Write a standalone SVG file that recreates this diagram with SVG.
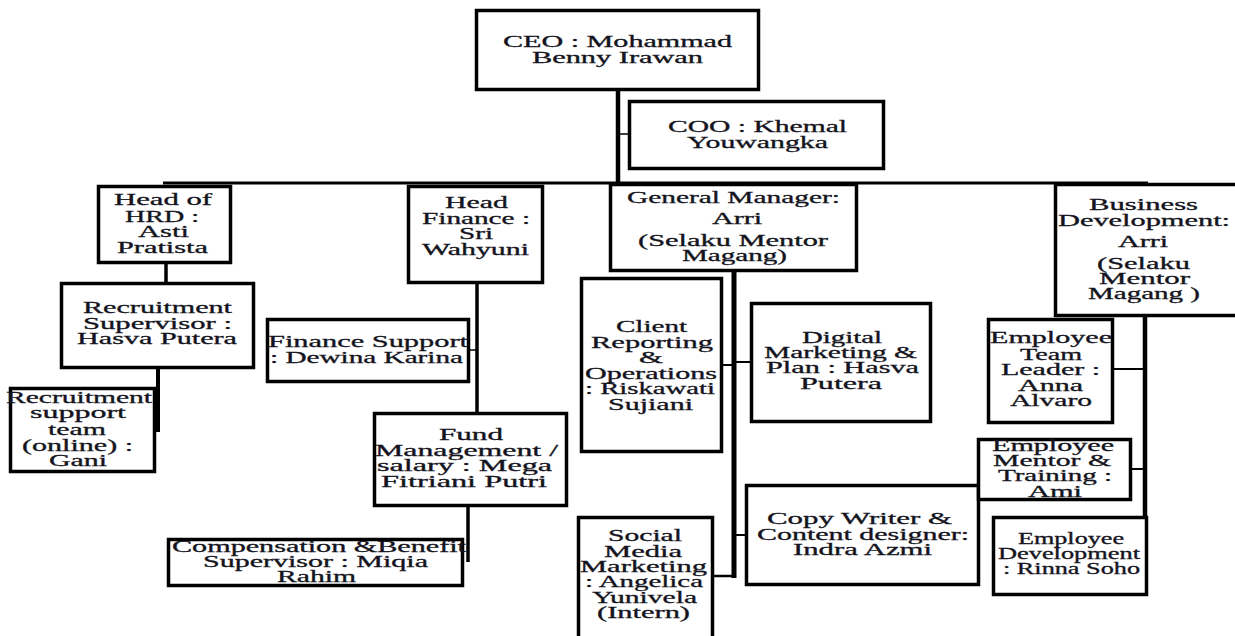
<svg xmlns="http://www.w3.org/2000/svg" width="1235" height="636" viewBox="0 0 1235 636">
<style>
.box{fill:#fff;stroke:#000;stroke-width:3.5}
.ln{stroke:#000;fill:none}
.t{font-family:"Liberation Serif","Times New Roman",serif;font-size:16px;fill:#141420;stroke:#141420;stroke-width:0.3}
</style>
<rect width="1235" height="636" fill="#fff"/>
<g id="connectors">
<line class="ln" x1="618" y1="90" x2="618" y2="184" stroke-width="4.5"/>
<line class="ln" x1="618" y1="134" x2="629" y2="134" stroke-width="1.5"/>
<line class="ln" x1="163" y1="183" x2="1148" y2="183" stroke-width="3"/>
<line class="ln" x1="166" y1="263" x2="166" y2="283" stroke-width="3.5"/>
<line class="ln" x1="158" y1="368" x2="158" y2="432" stroke-width="4"/>
<line class="ln" x1="477" y1="283" x2="477" y2="412" stroke-width="3.5"/>
<line class="ln" x1="469" y1="350" x2="477" y2="350" stroke-width="1.5"/>
<line class="ln" x1="468" y1="506" x2="468" y2="562" stroke-width="3.5"/>
<line class="ln" x1="734" y1="271" x2="734" y2="578" stroke-width="5"/>
<line class="ln" x1="722" y1="365" x2="734" y2="365" stroke-width="2"/>
<line class="ln" x1="734" y1="362" x2="751" y2="362" stroke-width="2"/>
<line class="ln" x1="734" y1="535" x2="746" y2="535" stroke-width="2"/>
<line class="ln" x1="713" y1="576" x2="734" y2="576" stroke-width="2.5"/>
<line class="ln" x1="1145" y1="316" x2="1145" y2="553" stroke-width="4.5"/>
<line class="ln" x1="1113" y1="369" x2="1145" y2="369" stroke-width="2"/>
<line class="ln" x1="1131" y1="469" x2="1145" y2="469" stroke-width="2"/>
</g>
<g id="ceo"><rect class="box" x="476.5" y="10.5" width="282" height="79"/>
<text class="t" x="503" y="47" textLength="229" lengthAdjust="spacingAndGlyphs">CEO : Mohammad</text>
<text class="t" x="532" y="63" textLength="171" lengthAdjust="spacingAndGlyphs">Benny Irawan</text></g>
<g id="coo"><rect class="box" x="629.5" y="101.5" width="254" height="67"/>
<text class="t" x="668" y="132" textLength="179" lengthAdjust="spacingAndGlyphs">COO : Khemal</text>
<text class="t" x="687" y="148" textLength="141" lengthAdjust="spacingAndGlyphs">Youwangka</text></g>
<g id="hrd"><rect class="box" x="98.5" y="186.5" width="132" height="76"/>
<text class="t" x="114" y="205" textLength="98" lengthAdjust="spacingAndGlyphs">Head of</text>
<text class="t" x="125" y="222" textLength="74" lengthAdjust="spacingAndGlyphs">HRD :</text>
<text class="t" x="138" y="237" textLength="51" lengthAdjust="spacingAndGlyphs">Asti</text>
<text class="t" x="117" y="253" textLength="91" lengthAdjust="spacingAndGlyphs">Pratista</text></g>
<g id="head-finance"><rect class="box" x="408.5" y="186.5" width="134" height="96"/>
<text class="t" x="445" y="208" textLength="63" lengthAdjust="spacingAndGlyphs">Head</text>
<text class="t" x="422" y="224" textLength="108" lengthAdjust="spacingAndGlyphs">Finance :</text>
<text class="t" x="459" y="239" textLength="34" lengthAdjust="spacingAndGlyphs">Sri</text>
<text class="t" x="422" y="255" textLength="107" lengthAdjust="spacingAndGlyphs">Wahyuni</text></g>
<g id="gm"><rect class="box" x="610.5" y="184.5" width="246" height="86"/>
<text class="t" x="627" y="203" textLength="213" lengthAdjust="spacingAndGlyphs">General Manager:</text>
<text class="t" x="712" y="224" textLength="50" lengthAdjust="spacingAndGlyphs">Arri</text>
<text class="t" x="638" y="246" textLength="190" lengthAdjust="spacingAndGlyphs">(Selaku Mentor</text>
<text class="t" x="682" y="261" textLength="105" lengthAdjust="spacingAndGlyphs">Magang)</text></g>
<g id="bd"><rect class="box" x="1055.5" y="184.5" width="190" height="131"/>
<text class="t" x="1089" y="210" textLength="109" lengthAdjust="spacingAndGlyphs">Business</text>
<text class="t" x="1058" y="226" textLength="172" lengthAdjust="spacingAndGlyphs">Development:</text>
<text class="t" x="1118" y="247" textLength="50" lengthAdjust="spacingAndGlyphs">Arri</text>
<text class="t" x="1097" y="269" textLength="93" lengthAdjust="spacingAndGlyphs">(Selaku</text>
<text class="t" x="1099" y="284" textLength="91" lengthAdjust="spacingAndGlyphs">Mentor</text>
<text class="t" x="1088" y="299" textLength="112" lengthAdjust="spacingAndGlyphs">Magang )</text></g>
<g id="recruitment-supervisor"><rect class="box" x="61.5" y="283.5" width="192" height="84"/>
<text class="t" x="83" y="313" textLength="149" lengthAdjust="spacingAndGlyphs">Recruitment</text>
<text class="t" x="83" y="329" textLength="149" lengthAdjust="spacingAndGlyphs">Supervisor :</text>
<text class="t" x="77" y="344" textLength="160" lengthAdjust="spacingAndGlyphs">Hasva Putera</text></g>
<g id="recruitment-support"><rect class="box" x="10.5" y="388.5" width="144" height="83"/>
<text class="t" x="6" y="403" textLength="146" lengthAdjust="spacingAndGlyphs">Recruitment</text>
<text class="t" x="30" y="418" textLength="96" lengthAdjust="spacingAndGlyphs">support</text>
<text class="t" x="48" y="435" textLength="58" lengthAdjust="spacingAndGlyphs">team</text>
<text class="t" x="22" y="451" textLength="111" lengthAdjust="spacingAndGlyphs">(online) :</text>
<text class="t" x="49" y="466" textLength="58" lengthAdjust="spacingAndGlyphs">Gani</text></g>
<g id="finance-support"><rect class="box" x="267.5" y="319.5" width="201" height="62"/>
<text class="t" x="268" y="347" textLength="200" lengthAdjust="spacingAndGlyphs">Finance Support</text>
<text class="t" x="270" y="363" textLength="193" lengthAdjust="spacingAndGlyphs">: Dewina Karina</text></g>
<g id="fund-management"><rect class="box" x="374.5" y="413.5" width="192" height="92"/>
<text class="t" x="439" y="440" textLength="64" lengthAdjust="spacingAndGlyphs">Fund</text>
<text class="t" x="375" y="456" textLength="183" lengthAdjust="spacingAndGlyphs">Management /</text>
<text class="t" x="377" y="471" textLength="175" lengthAdjust="spacingAndGlyphs">salary : Mega</text>
<text class="t" x="381" y="487" textLength="166" lengthAdjust="spacingAndGlyphs">Fitriani Putri</text></g>
<g id="compensation"><rect class="box" x="168.5" y="539.5" width="294" height="46"/>
<text class="t" x="172" y="552" textLength="294" lengthAdjust="spacingAndGlyphs">Compensation &amp;Benefit</text>
<text class="t" x="203" y="567" textLength="225" lengthAdjust="spacingAndGlyphs">Supervisor : Miqia</text>
<text class="t" x="277" y="582" textLength="79" lengthAdjust="spacingAndGlyphs">Rahim</text></g>
<g id="client-reporting"><rect class="box" x="581.5" y="278.5" width="140" height="173"/>
<text class="t" x="616" y="332" textLength="71" lengthAdjust="spacingAndGlyphs">Client</text>
<text class="t" x="591" y="348" textLength="122" lengthAdjust="spacingAndGlyphs">Reporting</text>
<text class="t" x="639" y="363" textLength="24" lengthAdjust="spacingAndGlyphs">&amp;</text>
<text class="t" x="585" y="379" textLength="132" lengthAdjust="spacingAndGlyphs">Operations</text>
<text class="t" x="585" y="394" textLength="130" lengthAdjust="spacingAndGlyphs">: Riskawati</text>
<text class="t" x="608" y="410" textLength="85" lengthAdjust="spacingAndGlyphs">Sujiani</text></g>
<g id="digital-marketing"><rect class="box" x="751.5" y="303.5" width="179" height="118"/>
<text class="t" x="802" y="343" textLength="80" lengthAdjust="spacingAndGlyphs">Digital</text>
<text class="t" x="764" y="358" textLength="153" lengthAdjust="spacingAndGlyphs">Marketing &amp;</text>
<text class="t" x="766" y="373" textLength="153" lengthAdjust="spacingAndGlyphs">Plan : Hasva</text>
<text class="t" x="800" y="389" textLength="82" lengthAdjust="spacingAndGlyphs">Putera</text></g>
<g id="copy-writer"><rect class="box" x="746.5" y="485.5" width="232" height="99"/>
<text class="t" x="767" y="524" textLength="185" lengthAdjust="spacingAndGlyphs">Copy Writer &amp;</text>
<text class="t" x="757" y="540" textLength="212" lengthAdjust="spacingAndGlyphs">Content designer:</text>
<text class="t" x="793" y="555" textLength="139" lengthAdjust="spacingAndGlyphs">Indra Azmi</text></g>
<g id="social-media"><rect class="box" x="578.5" y="517.5" width="134" height="125"/>
<text class="t" x="608" y="541" textLength="74" lengthAdjust="spacingAndGlyphs">Social</text>
<text class="t" x="604" y="557" textLength="78" lengthAdjust="spacingAndGlyphs">Media</text>
<text class="t" x="580" y="572" textLength="127" lengthAdjust="spacingAndGlyphs">Marketing</text>
<text class="t" x="585" y="587" textLength="118" lengthAdjust="spacingAndGlyphs">: Angelica</text>
<text class="t" x="592" y="603" textLength="105" lengthAdjust="spacingAndGlyphs">Yunivela</text>
<text class="t" x="597" y="618" textLength="93" lengthAdjust="spacingAndGlyphs">(Intern)</text></g>
<g id="team-leader"><rect class="box" x="988.5" y="319.5" width="124" height="103"/>
<text class="t" x="990" y="343" textLength="122" lengthAdjust="spacingAndGlyphs">Employee</text>
<text class="t" x="1020" y="360" textLength="62" lengthAdjust="spacingAndGlyphs">Team</text>
<text class="t" x="1001" y="375" textLength="99" lengthAdjust="spacingAndGlyphs">Leader :</text>
<text class="t" x="1018" y="391" textLength="65" lengthAdjust="spacingAndGlyphs">Anna</text>
<text class="t" x="1010" y="406" textLength="82" lengthAdjust="spacingAndGlyphs">Alvaro</text></g>
<g id="employee-mentor"><rect class="box" x="978.5" y="439.5" width="152" height="60"/>
<text class="t" x="992" y="451" textLength="122" lengthAdjust="spacingAndGlyphs">Employee</text>
<text class="t" x="993" y="466" textLength="118" lengthAdjust="spacingAndGlyphs">Mentor &amp;</text>
<text class="t" x="998" y="481" textLength="114" lengthAdjust="spacingAndGlyphs">Training :</text>
<text class="t" x="1028" y="497" textLength="54" lengthAdjust="spacingAndGlyphs">Ami</text></g>
<g id="employee-development"><rect class="box" x="993.5" y="517.5" width="153" height="77"/>
<text class="t" x="1018" y="544" textLength="106" lengthAdjust="spacingAndGlyphs">Employee</text>
<text class="t" x="998" y="559" textLength="142" lengthAdjust="spacingAndGlyphs">Development</text>
<text class="t" x="1003" y="574" textLength="137" lengthAdjust="spacingAndGlyphs">: Rinna Soho</text></g>
</svg>
